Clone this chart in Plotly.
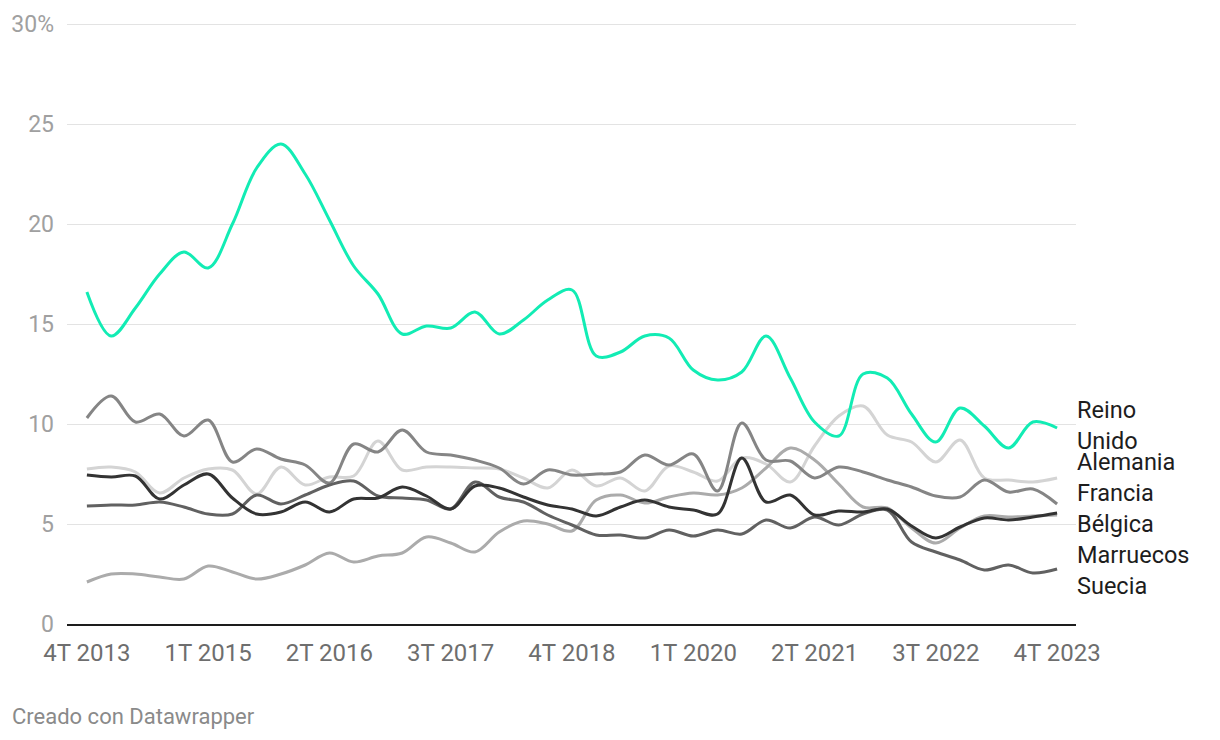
import plotly.graph_objects as go

# ---- data -------------------------------------------------------------
quarters = []
for y in range(2013, 2024):
    for q in range(1, 5):
        if (y == 2013 and q < 4):
            continue
        quarters.append(f"{q}T {y}")
tick_labels = ["4T 2013", "1T 2015", "2T 2016", "3T 2017", "4T 2018",
               "1T 2020", "2T 2021", "3T 2022", "4T 2023"]

reino_unido = [16.6, 14.4, 15.8, 17.5, 18.6, 17.8, 20.0, 22.8, 24.0, 22.5,
               20.2, 17.9, 16.5, 14.5, 14.9, 14.8, 15.6, 14.5, 15.2, 16.2,
               16.7, 13.4, 13.6, 14.4, 14.3, 12.7, 12.2, 12.6, 14.4, 12.3,
               10.1, 9.4, 12.5, 12.3, 10.5, 9.1, 10.8, 9.9, 8.8, 10.1, 9.8]
alemania = [7.75, 7.85, 7.6, 6.55, 7.3, 7.75, 7.7, 6.5, 7.85, 6.95,
            7.35, 7.4, 9.15, 7.7, 7.85, 7.85, 7.8, 7.75, 7.3, 6.8,
            7.7, 6.9, 7.3, 6.65, 7.9, 7.6, 7.15, 8.3, 8.0, 7.1,
            8.9, 10.4, 10.9, 9.45, 9.1, 8.1, 9.2, 7.3, 7.2, 7.1, 7.3]
francia = [10.3, 11.4, 10.1, 10.5, 9.4, 10.2, 8.1, 8.75, 8.25, 7.95,
           7.05, 9.0, 8.6, 9.7, 8.6, 8.45, 8.2, 7.8, 7.0, 7.7,
           7.45, 7.5, 7.6, 8.45, 7.95, 8.5, 6.65, 10.05, 8.2, 8.15,
           7.3, 7.85, 7.6, 7.2, 6.85, 6.4, 6.35, 7.2, 6.6, 6.75, 6.0]
belgica = [7.45, 7.35, 7.4, 6.25, 6.95, 7.5, 6.3, 5.5, 5.6, 6.1,
           5.6, 6.25, 6.3, 6.85, 6.4, 5.75, 6.9, 6.8, 6.35, 5.95,
           5.75, 5.4, 5.85, 6.2, 5.85, 5.7, 5.5, 8.3, 6.1, 6.45,
           5.45, 5.65, 5.6, 5.75, 4.9, 4.3, 4.85, 5.3, 5.2, 5.35, 5.55]
marruecos = [2.1, 2.5, 2.5, 2.35, 2.25, 2.9, 2.6, 2.25, 2.5, 2.95,
             3.55, 3.1, 3.4, 3.55, 4.35, 4.05, 3.6, 4.6, 5.15, 5.0,
             4.65, 6.2, 6.45, 6.05, 6.35, 6.55, 6.45, 6.8, 7.8, 8.8,
             8.2, 7.0, 5.85, 5.8, 4.8, 4.05, 4.8, 5.4, 5.35, 5.4, 5.45]
suecia = [5.9, 5.95, 5.95, 6.1, 5.85, 5.5, 5.5, 6.45, 6.0, 6.45,
          6.95, 7.15, 6.4, 6.3, 6.2, 5.75, 7.1, 6.35, 6.1, 5.45,
          4.95, 4.45, 4.45, 4.3, 4.7, 4.4, 4.7, 4.5, 5.2, 4.8,
          5.35, 4.95, 5.5, 5.7, 4.1, 3.6, 3.2, 2.7, 2.95, 2.55, 2.75]

series = [
    ("Alemania", alemania, "#d4d4d4"),
    ("Marruecos", marruecos, "#ababab"),
    ("Francia", francia, "#858585"),
    ("Suecia", suecia, "#616161"),
    ("Bélgica", belgica, "#333333"),
    ("Reino<br>Unido", reino_unido, "#12ecb4"),
]

FONT = "Roboto"
x_idx = list(range(len(quarters)))

fig = go.Figure()
for name, vals, col in series:
    fig.add_trace(go.Scatter(
        x=x_idx, y=vals, mode="lines", name=name.replace("<br>", " "),
        line=dict(color=col, width=3, shape="spline", smoothing=1.0),
        hoverinfo="skip", showlegend=False))

# ---- end labels with simple collision avoidance ------------------------
labels = sorted([(vals[-1], name, 2 if "<br>" in name else 1) for name, vals, col in series],
                key=lambda t: -t[0])
unit_gap = 1.55      # vertical spacing (data units) between single-line labels
extra_two_line = 0.25


def cluster_positions(c):
    centre = sum(v + o for (v, _, _), o in zip(c["items"], c["offs"])) / len(c["items"])
    return [centre - o for o in c["offs"]]


clusters = []
for val, name, lines in labels:
    clusters.append({"items": [(val, name, lines)], "offs": [0.0]})
    while len(clusters) > 1:
        a, b = clusters[-2], clusters[-1]
        pa, pb = cluster_positions(a), cluster_positions(b)
        gap = unit_gap + (extra_two_line if (a["items"][-1][2] == 2 or b["items"][0][2] == 2) else 0)
        if pa[-1] - pb[0] < gap:
            base = a["offs"][-1] + gap
            merged = {"items": a["items"] + b["items"],
                      "offs": a["offs"] + [base + o for o in b["offs"]]}
            clusters = clusters[:-2] + [merged]
        else:
            break

for c in clusters:
    for (v, name, _), p in zip(c["items"], cluster_positions(c)):
        fig.add_annotation(x=x_idx[-1], y=p, xref="x", yref="y", text=name,
                           showarrow=False, xanchor="left", yanchor="middle",
                           xshift=18, yshift=-6, align="left",
                           font=dict(family=FONT, size=23.5, color="#1d1d1d"))

# ---- layout -------------------------------------------------------------
W, H = 1220, 740
ML, MT = 59, 12          # page body adds 8px
Y_MAX = 30.2
PX_PER_UNIT = 20
ph = round(Y_MAX * PX_PER_UNIT)
pw = 1009
MR = W - ML - pw
MB = H - MT - ph

fig.add_annotation(text="Creado con Datawrapper", xref="paper", yref="paper",
                   x=(2 - ML) / pw, y=-(708 - (H - MB)) / ph, xanchor="left", yanchor="middle",
                   showarrow=False, font=dict(family=FONT, size=22, color="#8a8a8a"))

fig.update_layout(
    width=W, height=H,
    margin=dict(l=ML, r=MR, t=MT, b=MB, pad=0, autoexpand=False),
    paper_bgcolor="white", plot_bgcolor="white",
    font=dict(family=FONT),
    xaxis=dict(
        range=[-0.82, 40.78], tickmode="array", automargin=False,
        tickvals=[quarters.index(t) for t in tick_labels], ticktext=tick_labels,
        showgrid=False, zeroline=False, showline=True, linecolor="#1d1d1d", linewidth=2,
        ticks="", tickfont=dict(family=FONT, size=24, color="#6e6e6e"),
        ticklabelstandoff=6,
    ),
    yaxis=dict(
        range=[0, Y_MAX], tickmode="array", tickvals=[0, 5, 10, 15, 20, 25, 30],
        ticktext=["0", "5", "10", "15", "20", "25", "30%"], automargin=False,
        showgrid=True, gridcolor="#e3e3e3", gridwidth=1, zeroline=False,
        ticks="", tickfont=dict(family=FONT, size=23, color="#a0a0a0"),
        ticklabelstandoff=12,
    ),
)

fig.write_html("out.html")
